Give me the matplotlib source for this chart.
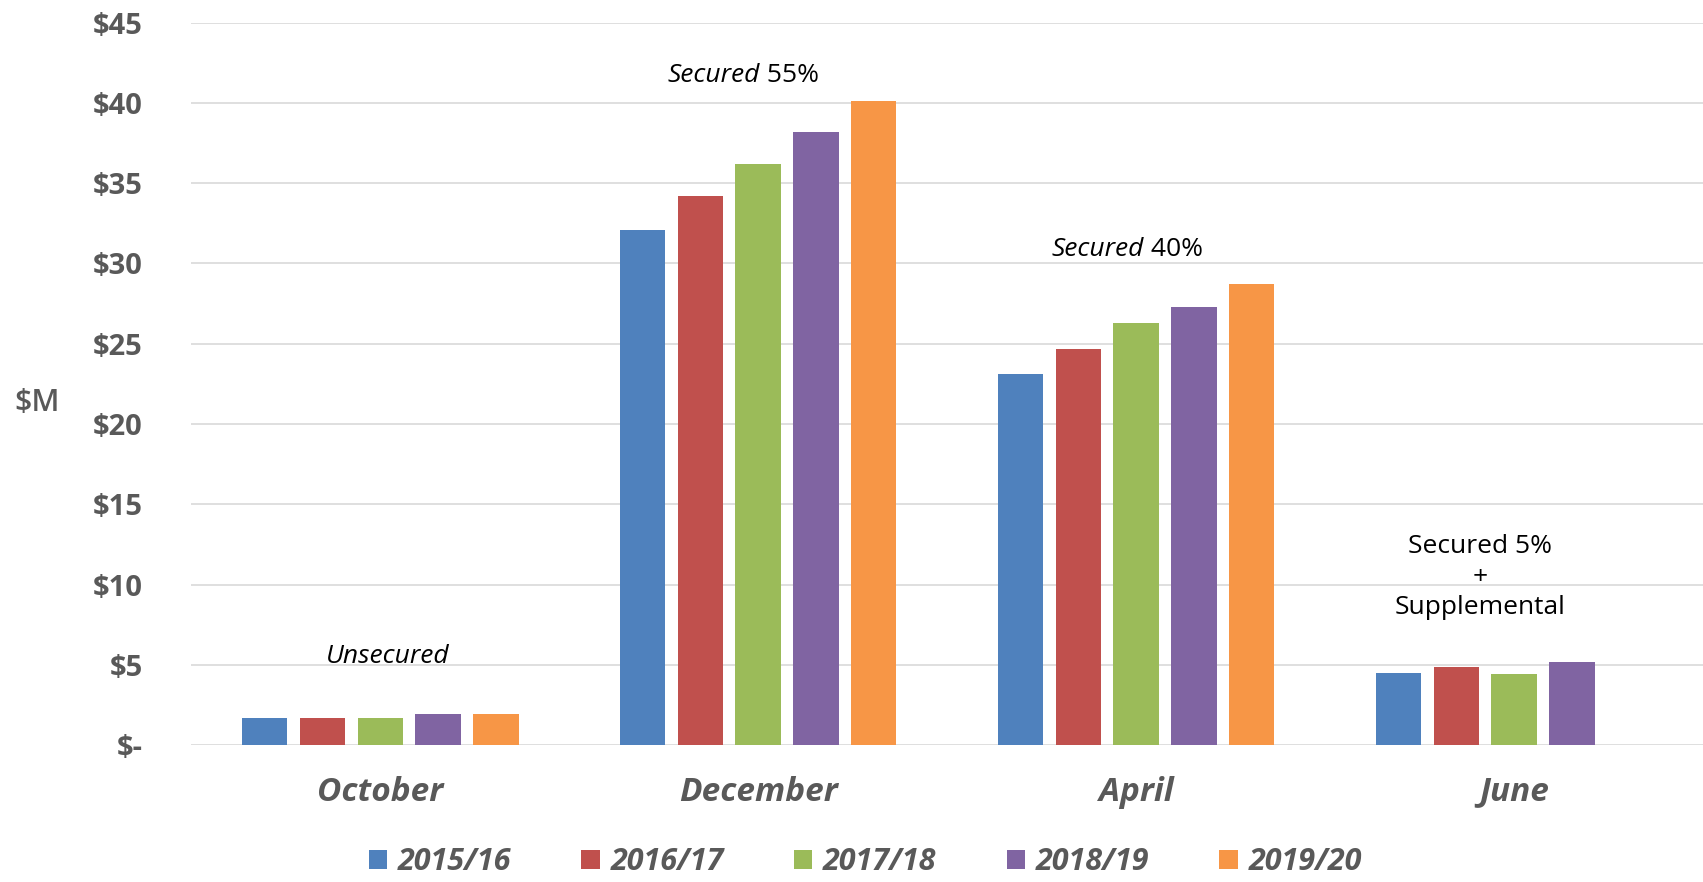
import numpy as np
import matplotlib
matplotlib.use("Agg")
import matplotlib.pyplot as plt
from matplotlib.patches import Patch

plt.rcParams['font.family'] = ['Open Sans', 'DejaVu Sans']

# Data ($M)
months = ['October', 'December', 'April', 'June']
years = ['2015/16', '2016/17', '2017/18', '2018/19', '2019/20']
v_2015 = [1.70, 32.1, 23.1, 4.50]
v_2016 = [1.70, 34.2, 24.7, 4.84]
v_2017 = [1.68, 36.2, 26.3, 4.42]
v_2018 = [1.93, 38.2, 27.3, 5.15]
v_2019 = [1.93, 40.1, 28.75, np.nan]
series = [v_2015, v_2016, v_2017, v_2018, v_2019]
y_ticks = [0, 5, 10, 15, 20, 25, 30, 35, 40, 45]
y_tick_labels = ['$-', '$5', '$10', '$15', '$20', '$25', '$30', '$35', '$40', '$45']

colors = ['#4F81BD', '#C0504D', '#9BBB59', '#8064A2', '#F79646']
grey = '#595959'

fig = plt.figure(figsize=(17.03, 8.82), dpi=100)
ax = fig.add_axes([0.1123, 0.1553, 0.8877, 0.819])

x = np.arange(len(months))
step = 0.153
width = 0.12
for i, vals in enumerate(series):
    vals = np.array(vals, dtype=float)
    ok = ~np.isnan(vals)
    ax.bar(x[ok] + (i - 2) * step, vals[ok], width=width, color=colors[i], zorder=3)

ax.set_xlim(-0.5, 3.5)
ax.set_ylim(0, 45)
ax.set_yticks(y_ticks)
ax.set_yticklabels(y_tick_labels, fontsize=21, fontweight='bold', color=grey)
ax.set_xticks(x)
ax.set_xticklabels(months, fontsize=24, fontweight='bold', style='italic', color=grey)
ax.tick_params(axis='y', length=0, pad=35)
ax.tick_params(axis='x', length=0, pad=22)
ax.grid(axis='y', color='#D9D9D9', linewidth=1.2, zorder=0)
for s in ax.spines.values():
    s.set_visible(False)

fig.text(0.022, 0.543, '$M', fontsize=22, fontweight=600, color=grey, ha='center', va='center')

# annotations
def mixed(xp, yp, word, pct):
    t1 = ax.text(xp, yp, word, ha='right', va='center', fontsize=19, style='italic', color='black')
    ax.annotate(' ' + pct, xy=(1, 0), xycoords=t1, ha='left', va='bottom',
                fontsize=19, color='black')

mixed(1.005, 41.7, 'Secured', '55%')
mixed(2.02, 30.9, 'Secured', '40%')
ax.text(0.02, 5.5, 'Unsecured', ha='center', va='center', fontsize=19, style='italic', color='black')
ax.text(2.91, 10.46, 'Secured 5%\n+\nSupplemental', ha='center', va='center', fontsize=19,
        color='black', linespacing=1.3)

handles = [Patch(facecolor=c, edgecolor='none') for c in colors]
leg = fig.legend(handles, years, loc='center', bbox_to_anchor=(0.508, 0.0227), ncol=5,
                 frameon=False, handlelength=0.6, handleheight=0.6, handletextpad=0.35,
                 columnspacing=2.3, prop={'size': 22, 'weight': 'bold', 'style': 'italic'})
for t in leg.get_texts():
    t.set_color(grey)

fig.savefig('out.png', dpi=100)
